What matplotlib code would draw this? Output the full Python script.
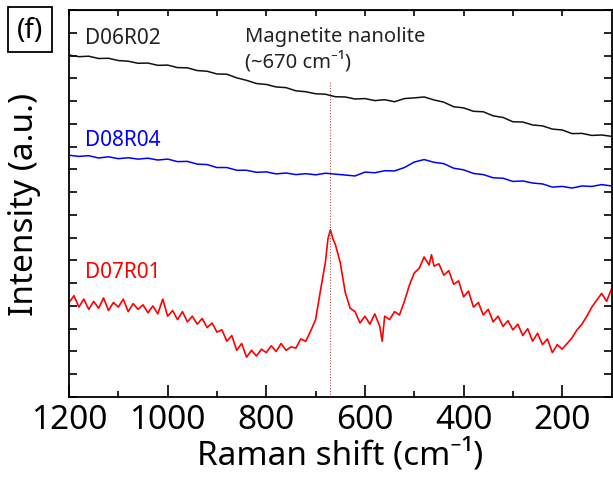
import matplotlib
matplotlib.use('Agg')
import matplotlib.pyplot as plt
import numpy as np

plt.rcParams['font.family'] = ['Noto Sans', 'DejaVu Sans']

# Raman shift grids (cm-1)
shift_20 = np.arange(1200, 99, -20)

# D06R02 (black), offset intensity in a.u.
d06r02 = [15.02, 14.95, 14.97, 14.87, 14.88, 14.78, 14.75, 14.66, 14.67, 14.57,
          14.58, 14.47, 14.46, 14.34, 14.31, 14.19, 14.18, 14.02, 13.91, 13.77,
          13.73, 13.62, 13.59, 13.45, 13.41, 13.32, 13.30, 13.19, 13.18, 13.09,
          13.11, 13.02, 13.06, 12.97, 13.11, 13.14, 13.18, 13.05, 12.95, 12.75,
          12.70, 12.55, 12.53, 12.35, 12.28, 12.09, 12.08, 11.95, 11.91, 11.77,
          11.73, 11.57, 11.58, 11.49, 11.51, 11.45]

# D08R04 (blue)
d08r04 = [10.62, 10.57, 10.60, 10.50, 10.55, 10.47, 10.51, 10.45, 10.49, 10.41,
          10.45, 10.34, 10.35, 10.23, 10.21, 10.08, 10.08, 9.96, 9.96, 9.87,
          9.89, 9.80, 9.84, 9.77, 9.81, 9.76, 9.83, 9.79, 9.75, 9.71,
          9.88, 9.85, 9.94, 9.93, 10.08, 10.32, 10.43, 10.31, 10.25, 10.05,
          9.98, 9.82, 9.77, 9.63, 9.61, 9.47, 9.49, 9.40, 9.36, 9.22,
          9.25, 9.18, 9.27, 9.25, 9.33, 9.27]

# D07R01 (red)
shift_red = [1200, 1190, 1180, 1170, 1160, 1150, 1140, 1130, 1120, 1110,
             1100, 1090, 1080, 1070, 1060, 1050, 1040, 1030, 1020, 1010,
             1000, 990, 980, 970, 960, 950, 940, 930, 920, 910,
             900, 890, 880, 870, 860, 850, 840, 830, 820, 810,
             800, 790, 780, 770, 760, 750, 740, 730, 720, 710,
             700, 690, 680, 675, 670, 665, 660, 650, 640, 630,
             620, 610, 600, 590, 580, 570, 565, 560, 550, 540,
             530, 520, 510, 500, 490, 480, 470, 465, 460, 450,
             440, 430, 420, 410, 400, 390, 380, 370, 360, 350,
             340, 330, 320, 310, 300, 290, 280, 270, 260, 250,
             240, 230, 220, 210, 200, 190, 180, 170, 160, 150,
             140, 130, 120, 110, 100]
d07r01 = [4.15, 4.45, 3.95, 4.30, 3.85, 4.20, 3.90, 4.35, 3.80, 4.15,
          3.95, 4.30, 3.75, 4.10, 3.85, 4.05, 3.70, 4.00, 3.65, 4.30,
          3.55, 3.80, 3.40, 3.75, 3.30, 3.55, 3.20, 3.45, 3.05, 3.25,
          2.85, 2.95, 2.45, 2.70, 2.05, 2.35, 1.75, 2.05, 1.80, 2.10,
          1.95, 2.25, 2.00, 2.35, 2.05, 2.20, 2.15, 2.55, 2.45, 2.90,
          3.40, 4.70, 5.95, 6.95, 7.35, 6.95, 6.70, 5.90, 4.60, 3.90,
          3.75, 3.25, 3.55, 3.20, 3.65, 3.10, 2.45, 3.55, 3.40, 3.75,
          3.60, 4.20, 4.90, 5.45, 5.65, 6.15, 5.80, 6.25, 5.75, 5.85,
          5.35, 5.55, 4.95, 5.10, 4.40, 4.65, 3.95, 4.15, 3.60, 3.85,
          3.30, 3.55, 3.10, 3.35, 2.95, 3.20, 2.70, 3.00, 2.45, 2.80,
          2.30, 2.55, 1.95, 2.30, 2.10, 2.35, 2.60, 2.95, 3.20, 3.55,
          3.95, 4.25, 4.55, 4.20, 4.75]

magnetite_shift = 670
xticks_major = [1200, 1000, 800, 600, 400, 200]
xticks_minor = [1100, 900, 700, 500, 300]

fig = plt.figure(figsize=(6.13, 4.85), dpi=100)
ax = fig.add_axes([0.1126, 0.1794, 0.8850, 0.7979])

ax.plot(shift_20, d06r02, color='#111111', lw=1.1)
ax.plot(shift_20, d08r04, color='#0000ff', lw=1.1)
ax.plot(shift_red, d07r01, color='#ff0000', lw=1.2)
ax.vlines(magnetite_shift, 0, 13.83, colors='#b05050', linestyles=(0, (1, 1.5)), lw=0.8)

ax.set_xlim(1200, 100)
ax.set_ylim(0, 17)
ax.set_xticks(xticks_major)
ax.set_xticks(xticks_minor, minor=True)
ax.set_yticks(range(0, 18))
ax.tick_params(axis='x', which='major', direction='in', length=8.5, width=1.2,
               labelsize=24, pad=4)
ax.tick_params(axis='x', which='minor', direction='in', length=4.3, width=1.2)
ax.tick_params(axis='y', direction='in', length=5.8, width=1.2, labelleft=False,
               right=True)
for s in ax.spines.values():
    s.set_linewidth(1.3)

top = ax.secondary_xaxis('top')
top.set_xticks(xticks_major + xticks_minor)
top.tick_params(direction='in', length=4, width=1.2, labeltop=False)

ax.set_xlabel('Raman shift (cm\u207b\u00b9)', fontsize=24, labelpad=2)
ax.set_ylabel('Intensity (a.u.)', fontsize=24, labelpad=20)

ax.text(1167, 15.8, 'D06R02', fontsize=15, color='#222222', va='center')
ax.text(1167, 11.3, 'D08R04', fontsize=15, color='#0000ff', va='center')
ax.text(1167, 5.5, 'D07R01', fontsize=15, color='#ff0000', va='center')
ax.text(843, 15.85, 'Magnetite nanolite', fontsize=14.5, color='#222222', va='center')
ax.text(843, 14.75, '(~670 cm\u207b\u00b9)', fontsize=14.5, color='#222222', va='center')

fig.text(0.049, 0.937, '(f)', fontsize=20, ha='center', va='center',
         bbox=dict(boxstyle='square,pad=0.32', fc='white', ec='black', lw=1.3))

fig.savefig('out.png', dpi=100)
